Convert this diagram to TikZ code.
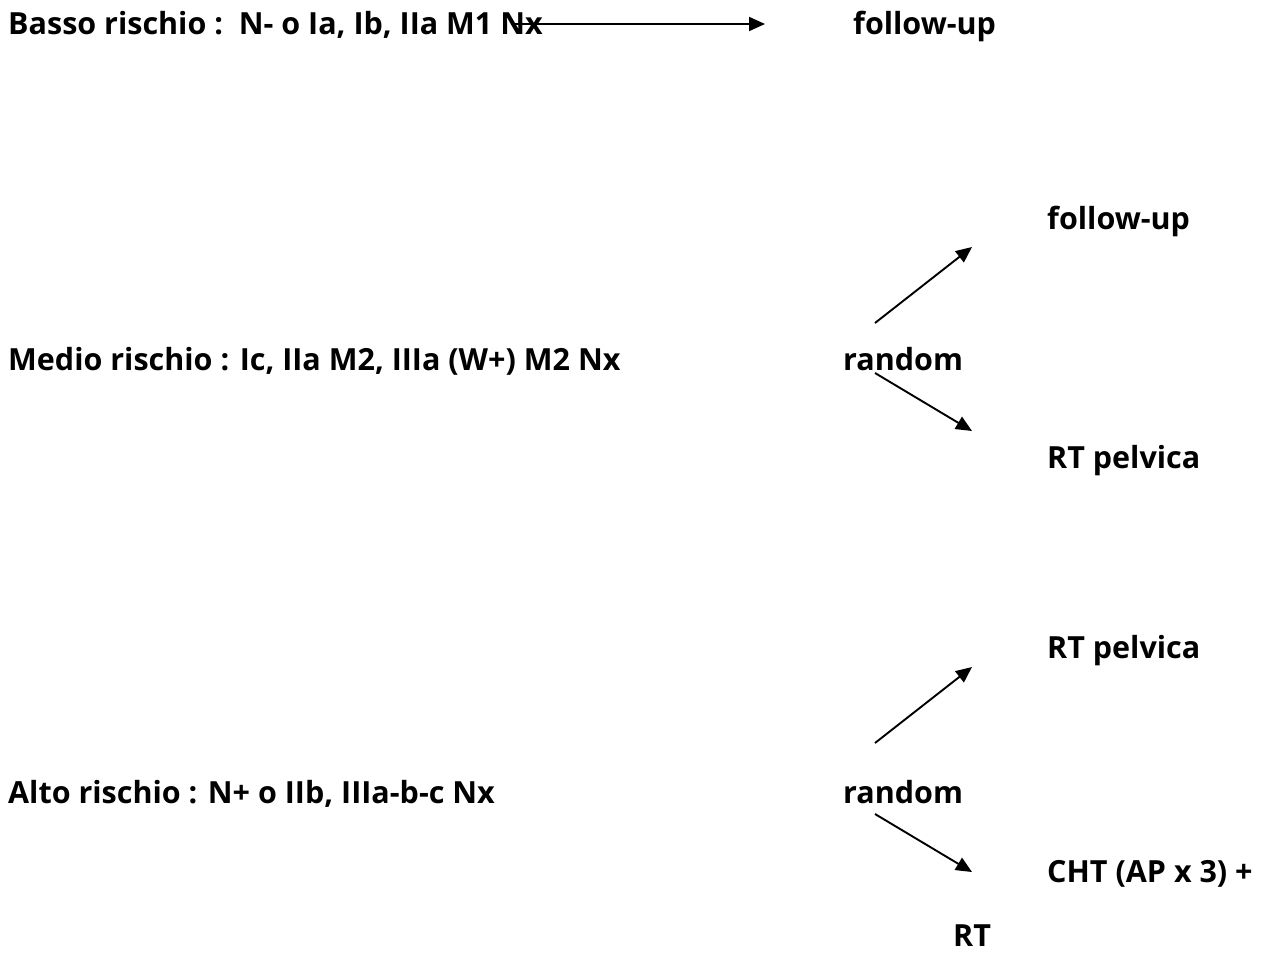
\documentclass[tikz,border=0pt]{standalone}
\usepackage{fontspec}
\setmainfont{Open Sans}
\usepackage{tikz}
\usetikzlibrary{arrows.meta}

\begin{document}
\begin{tikzpicture}[x=1pt, y=-1pt,
    txt/.style={anchor=base west, inner sep=0pt, font=\fontsize{30.5}{36}\selectfont\bfseries},
    arr/.style={line width=1.9pt, -{Triangle[length=16pt,width=14pt]}}]
  \useasboundingbox (0,0) rectangle (1266,953);
  % risk groups
  \node[txt] (basso) at (8,34) {Basso rischio :\ \ N- o Ia, Ib, IIa M1 Nx};
  \node[txt] (medio) at (8,370) {Medio rischio : Ic, IIa M2, IIIa (W+) M2 Nx};
  \node[txt] (alto)  at (8,803) {Alto rischio : N+ o IIb, IIIa-b-c Nx};
  % treatments
  \node[txt] (fu0) at (853,34) {follow-up};
  \node[txt] (rnd1) at (843,370) {random};
  \node[txt] (fu1) at (1047,229) {follow-up};
  \node[txt] (rtp1) at (1047,468) {RT pelvica};
  \node[txt] (rnd2) at (843,803) {random};
  \node[txt] (rtp2) at (1047,658) {RT pelvica};
  \node[txt] (cht) at (1047,882) {CHT (AP x 3) +};
  \node[txt] (rt) at (953,946) {RT};
  % arrow ends
  \coordinate (b0) at (511,24);  \coordinate (e0) at (765,24);
  \coordinate (b1) at (875,323); \coordinate (e1) at (972,247);
  \coordinate (b2) at (875,373); \coordinate (e2) at (972,431);
  \coordinate (b3) at (875,743); \coordinate (e3) at (972,667);
  \coordinate (b4) at (875,814); \coordinate (e4) at (972,872);
  \draw[arr] (b0) -- (e0);
  \draw[arr] (b1) -- (e1);
  \draw[arr] (b2) -- (e2);
  \draw[arr] (b3) -- (e3);
  \draw[arr] (b4) -- (e4);
\end{tikzpicture}
\end{document}
